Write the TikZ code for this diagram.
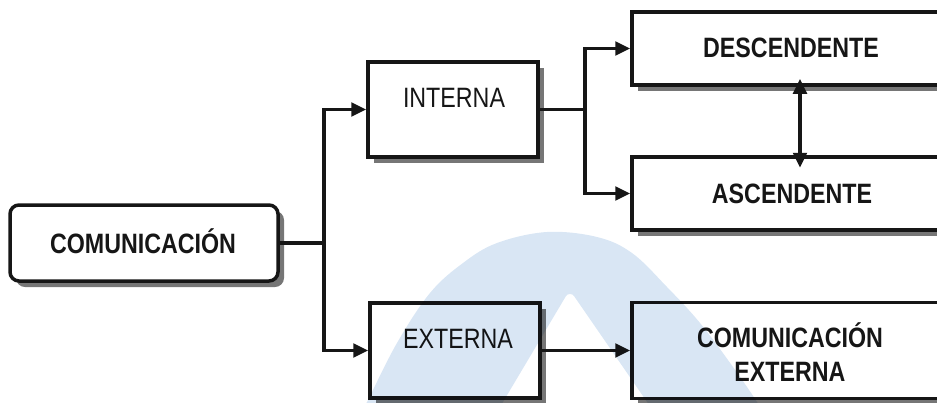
\documentclass[tikz,border=0pt]{standalone}
\usepackage{fontspec}
\newfontfamily\narrowsans[FakeStretch=0.83]{Liberation Sans}
\usetikzlibrary{arrows.meta,shadows}
\definecolor{ink}{RGB}{22,22,22}
\definecolor{shadowgray}{RGB}{118,118,118}
\definecolor{logoblue}{RGB}{217,230,244}
\begin{document}
\begin{tikzpicture}[x=1pt,y=-1pt,
  box/.style={draw=ink, line width=3.5pt, fill=white, inner sep=0pt,
    drop shadow={shadow xshift=6pt, shadow yshift=-6pt, fill=shadowgray, opacity=1}},
  lbl/.style={inner sep=0pt, text=ink, text height=20pt, text depth=0pt,
    font=\narrowsans\fontsize{28}{33.5}\selectfont},
  lblb/.style={lbl, font=\narrowsans\bfseries\fontsize{28}{33.5}\selectfont},
  conn/.style={draw=ink, line width=3.5pt},
  tip/.tip={Triangle[length=15pt, width=13.5pt]},
  arr/.style={conn, -tip},
  arrboth/.style={conn, tip-tip, shorten <=-8pt, shorten >=-12.5pt}
]
\useasboundingbox (0,0) rectangle (937,402);
\clip (0,0) rectangle (937,402);

% boxes
\node[box, rounded corners=9pt, minimum width=268pt, minimum height=76pt] (com) at (144,243) {};
\node[box, minimum width=170pt, minimum height=95pt] (int) at (453,109.5) {};
\node[box, minimum width=170pt, minimum height=95pt] (ext) at (455,350.5) {};
\node[box, minimum width=318pt, minimum height=73pt] (desc) at (791,48.5) {};
\node[box, minimum width=318pt, minimum height=73pt] (asc) at (791,193.5) {};
\node[box, minimum width=318pt, minimum height=96pt] (cext) at (791,350.5) {};

% labels
\node[lblb] (comT) at (143,243) {COMUNICACIÓN};
\node[lbl] (intT) at (454,97) {INTERNA};
\node[lbl] (extT) at (458,338) {EXTERNA};
\node[lblb] (descT) at (791,47) {DESCENDENTE};
\node[lblb] (ascT) at (792,193) {ASCENDENTE};
% two-line label: its box baseline is the last line, so the height spans both lines
\node[lblb, align=center, text height=53.5pt, anchor=north] (cextT) at (790,327.5) {COMUNICACIÓN\\EXTERNA};

% connectors
\draw[conn] (com.east) -- ++(44,0) coordinate (j1);
\draw[arr] (j1) |- (int.west);
\draw[arr] (j1) |- (ext.west);
\draw[conn] (int.east) -- ++(45,0) coordinate (j2);
\draw[arr] (j2) |- (desc.west);
\draw[arr] (j2) |- (asc.west);
\draw[arr] (ext.east) -- (cext.west);
\draw[arrboth] ([xshift=9pt]desc.south) -- ([xshift=9pt]asc.north);

% pale logo printed behind the chart
\begin{scope}[blend mode=multiply]
\fill[logoblue, even odd rule]
  plot[smooth, tension=0.6] coordinates {(360,414) (367,402) (397,343) (430,293)
    (463,263) (497,243) (547,232) (597,237) (632,253) (667,287) (700,323)
    (733,367) (757,402) (763,414)} -- cycle
  (497,412) -- (566,296) to[out=60,in=120] (574,296) -- (654,412) -- cycle;
\end{scope}
\end{tikzpicture}
\end{document}
